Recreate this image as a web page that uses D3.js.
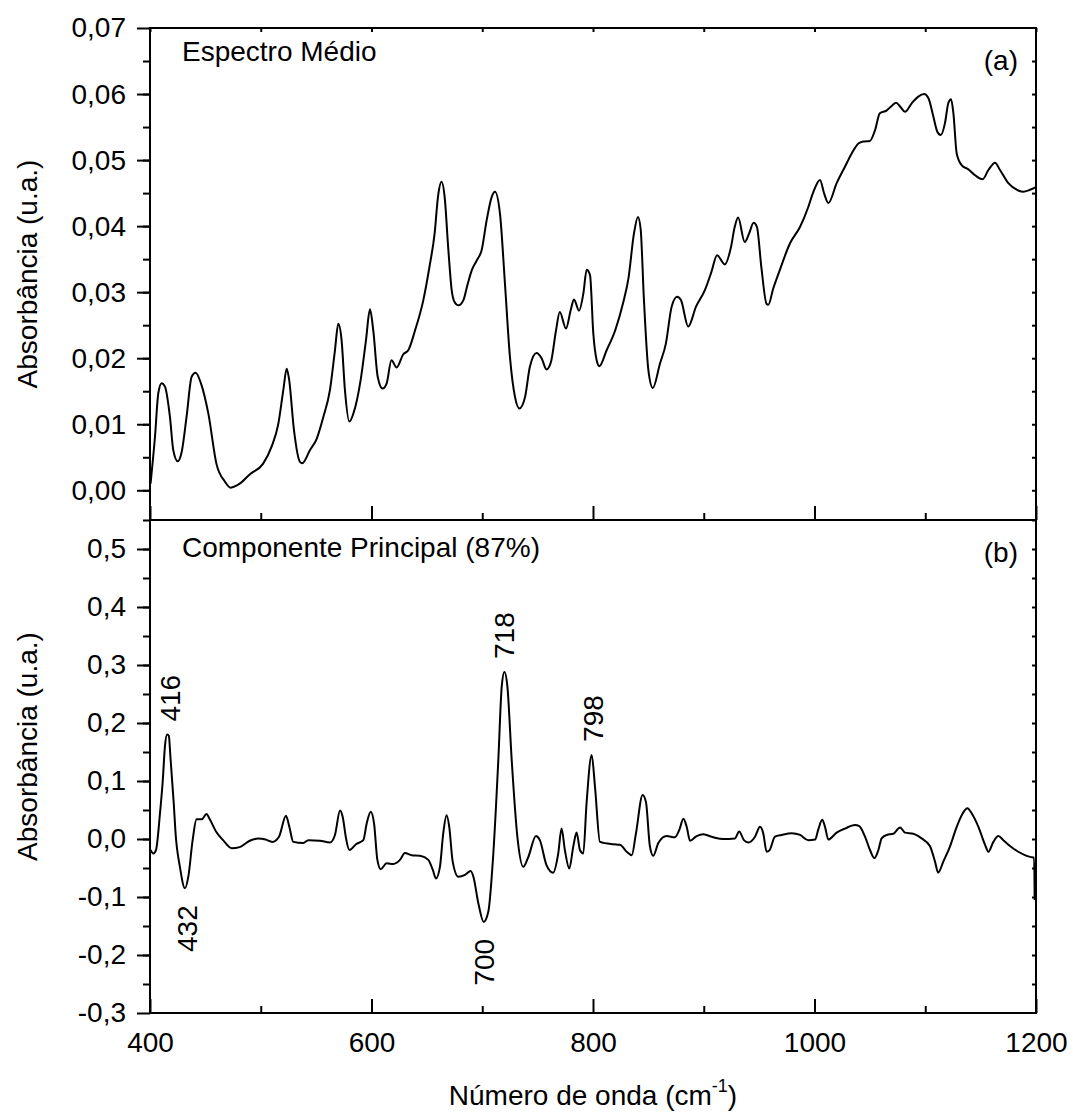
<!DOCTYPE html>
<html>
<head>
<meta charset="utf-8">
<script src="https://cdn.jsdelivr.net/npm/d3@7"></script>
<style>
  body { margin: 0; background: #fff; }
  text { font-family: "Liberation Sans", Arial, sans-serif; fill: #000; }
</style>
</head>
<body>
<div id="chart"></div>
<script>
// mean spectrum (a)
const meanWn = [400.5, 404.5, 407.5, 410.5, 413.5, 418, 421, 425, 428.6, 433, 437.6, 441.2, 446, 452.7, 460, 467.7, 472.8, 481, 490, 502,
  509.8, 515.9, 520.4, 523.4, 525.5, 530, 535.4, 537.5, 544.5, 550.5, 556.5, 562.5, 567, 570, 573, 576, 580, 583.6, 590.4, 595,
  598.6, 601.6, 605.6, 610, 613.7, 618, 622.7, 628.7, 633.2, 639.3, 646.8, 652.5, 657, 660, 663.3, 666, 669.4, 672.4, 675, 678.4,
  683, 686.5, 690.5, 695, 699.5, 704, 708.5, 711.5, 716, 720.5, 725, 729.6, 733.5, 738.6, 743, 749, 753.6, 758, 762, 766.6,
  770, 775.6, 779.9, 782.8, 787.4, 791.3, 794.3, 797.3, 800.3, 803.3, 805.7, 812.3, 820, 827.4, 832, 837, 840.6, 843, 846, 850,
  854, 860.5, 865.8, 871, 876, 879.4, 886, 893, 901, 907, 912, 919, 924.3, 928, 931, 937, 941, 945, 948, 952,
  956.8, 958.3, 962.8, 967.5, 977.9, 987, 994.4, 999, 1005, 1008.6, 1012.5, 1020, 1027.5, 1033.6, 1039.6, 1044, 1050, 1054.6, 1059, 1065,
  1069.7, 1073.6, 1077.8, 1081.7, 1087.8, 1093.7, 1098.9, 1102.8, 1107.3, 1110.9, 1114, 1117.8, 1120.8, 1123.3, 1125.4, 1128.4, 1133, 1138.9, 1145, 1151.8,
  1157, 1163, 1167.5, 1175, 1184, 1188.5, 1194.6, 1200];
const meanAbs = [0.0010, 0.0081, 0.0147, 0.0162, 0.0157, 0.0111, 0.0061, 0.0044, 0.0058, 0.0111, 0.0172, 0.0178, 0.0162, 0.0116, 0.0040, 0.0013, 0.0004, 0.0010, 0.0024, 0.0040,
  0.0066, 0.0101, 0.0152, 0.0184, 0.0169, 0.0091, 0.0043, 0.0041, 0.0061, 0.0078, 0.0111, 0.0152, 0.0212, 0.0252, 0.0227, 0.0152, 0.0104, 0.0116, 0.0169, 0.0227,
  0.0274, 0.0242, 0.0172, 0.0154, 0.0162, 0.0197, 0.0186, 0.0206, 0.0212, 0.0242, 0.0288, 0.0340, 0.0389, 0.0444, 0.0467, 0.0445, 0.0364, 0.0303, 0.0285, 0.0280,
  0.0288, 0.0310, 0.0333, 0.0348, 0.0364, 0.0409, 0.0444, 0.0452, 0.0419, 0.0313, 0.0202, 0.0141, 0.0124, 0.0141, 0.0187, 0.0208, 0.0200, 0.0183, 0.0194, 0.0242,
  0.0270, 0.0245, 0.0273, 0.0289, 0.0272, 0.0298, 0.0334, 0.0326, 0.0237, 0.0197, 0.0188, 0.0212, 0.0242, 0.0285, 0.0321, 0.0389, 0.0414, 0.0396, 0.0288, 0.0182,
  0.0155, 0.0192, 0.0222, 0.0278, 0.0293, 0.0288, 0.0248, 0.0278, 0.0303, 0.0331, 0.0356, 0.0342, 0.0366, 0.0399, 0.0413, 0.0376, 0.0389, 0.0405, 0.0399, 0.0338,
  0.0282, 0.0281, 0.0306, 0.0328, 0.0374, 0.0399, 0.0429, 0.0452, 0.0470, 0.0450, 0.0435, 0.0465, 0.0490, 0.0510, 0.0525, 0.0528, 0.0529, 0.0545, 0.0571, 0.0575,
  0.0582, 0.0587, 0.0580, 0.0573, 0.0586, 0.0596, 0.0600, 0.0594, 0.0566, 0.0543, 0.0538, 0.0556, 0.0586, 0.0592, 0.0571, 0.0510, 0.0492, 0.0486, 0.0477, 0.0471,
  0.0485, 0.0496, 0.0485, 0.0465, 0.0454, 0.0452, 0.0455, 0.0459];

// principal component (b)
const pcWn = [400.5, 403, 405.4, 409, 411.5, 413.5, 415.5, 417, 418.5, 420, 421.5, 423, 427, 431.6, 434.6, 438.5, 442, 446.7, 451, 454,
  459.6, 466, 473.8, 481, 490, 497.8, 504.4, 510.4, 516.5, 522.8, 525.8, 529.4, 538.4, 543, 553.5, 562.5, 567, 571.6, 574, 577,
  580, 586, 592.6, 595.7, 599.3, 602.3, 605.3, 608.3, 613.7, 619.7, 625.7, 630.2, 636.3, 643.8, 651.3, 655.3, 658.2, 661.8, 664.8, 667.8,
  670.2, 673.3, 678.4, 684.4, 689.6, 692, 696.5, 701.3, 705.5, 710, 714.5, 717.6, 720, 722.7, 726.6, 731.7, 737, 741.6, 748.5, 752,
  758, 764, 768.6, 771.6, 774.6, 778.6, 782.2, 785.2, 788.2, 791.2, 794.2, 798.8, 801.8, 806.3, 818.3, 824.4, 830.4, 835, 838.8, 844.8,
  847.8, 851.4, 854.4, 859, 866.5, 874, 878, 881.6, 884.6, 887.6, 893.6, 899.6, 908.6, 917.6, 928.2, 932, 936.3, 940.2, 946.3, 950.8,
  953.7, 956.8, 959.2, 964.3, 970.4, 979.4, 987, 994.4, 1000.5, 1003.5, 1007, 1009.5, 1012.5, 1020, 1027.5, 1036.6, 1040.4, 1045.6, 1050.1, 1054,
  1057.7, 1060.6, 1065.2, 1071.2, 1077.2, 1081.7, 1089.2, 1096.7, 1104.2, 1108.8, 1111.7, 1116.3, 1122.3, 1128.4, 1133.8, 1138, 1142, 1148, 1154, 1157,
  1161.5, 1166, 1170.5, 1176.5, 1184, 1191.6, 1197.6, 1198.3, 1198.8];
const pcLoad = [-0.019, -0.025, -0.019, 0.044, 0.100, 0.160, 0.180, 0.178, 0.140, 0.100, 0.060, 0.012, -0.048, -0.085, -0.065, -0.002, 0.034, 0.034, 0.043, 0.034,
  0.013, -0.002, -0.016, -0.014, -0.003, 0.001, -0.001, -0.005, 0.004, 0.040, 0.021, -0.005, -0.007, -0.002, -0.003, -0.006, 0.007, 0.049, 0.038, 0.001,
  -0.019, -0.009, -0.002, 0.027, 0.047, 0.027, -0.036, -0.052, -0.042, -0.043, -0.036, -0.024, -0.028, -0.029, -0.036, -0.053, -0.068, -0.048, 0.010, 0.041,
  0.021, -0.039, -0.065, -0.062, -0.055, -0.065, -0.111, -0.143, -0.125, -0.025, 0.136, 0.263, 0.288, 0.263, 0.136, 0.004, -0.048, -0.031, 0.005, -0.002,
  -0.045, -0.058, -0.025, 0.018, -0.019, -0.051, -0.013, 0.011, -0.019, -0.025, 0.062, 0.145, 0.090, -0.005, -0.009, -0.010, -0.022, -0.028, 0.010, 0.076,
  0.064, -0.013, -0.029, -0.007, 0.005, 0.003, 0.016, 0.035, 0.021, -0.003, 0.005, 0.008, 0.003, 0.000, 0.001, 0.013, -0.002, -0.006, 0.004, 0.021,
  0.010, -0.022, -0.020, 0.004, 0.007, 0.010, 0.007, -0.002, -0.001, 0.017, 0.033, 0.021, -0.001, 0.011, 0.018, 0.024, 0.022, 0.004, -0.019, -0.033,
  -0.019, 0.001, 0.007, 0.009, 0.020, 0.011, 0.009, 0.001, -0.012, -0.039, -0.058, -0.039, -0.013, 0.021, 0.044, 0.053, 0.044, 0.021, -0.010, -0.022,
  -0.005, 0.005, -0.002, -0.012, -0.022, -0.029, -0.032, -0.032, -0.105];

// peak labels in panel (b)
const peakWn = [416, 432, 700, 718, 798];
const peakVal = [0.18, -0.085, -0.143, 0.288, 0.145];
const peakSide = ["up", "down", "down", "up", "up"];

const xTicks = [400, 600, 800, 1000, 1200];
const xMinor = [500, 700, 900, 1100];
const meanTicks = [0, 0.01, 0.02, 0.03, 0.04, 0.05, 0.06, 0.07];
const pcTicks = [-0.3, -0.2, -0.1, 0, 0.1, 0.2, 0.3, 0.4, 0.5];

const width = 1073, height = 1115;
const left = 150, right = 1036;
const topA = 28, botA = 520, topB = 520, botB = 1013;
const fs = 28;

const svg = d3.select("#chart").append("svg")
  .attr("width", width)
  .attr("height", height);

const x = d3.scaleLinear().domain([400, 1200]).range([left, right]);
const yA = d3.scaleLinear().domain([-0.0045, 0.07]).range([botA, topA]);
const yB = d3.scaleLinear().domain([-0.3, 0.55]).range([botB, topB]);

// comma decimals and a plain hyphen for negatives
const comma = (dec) => (d) => d3.format("." + dec + "f")(d).replace(".", ",").replace("\u2212", "-");

function frame(g) {
  g.selectAll(".domain").remove();
  g.selectAll("line").attr("stroke", "#000").attr("stroke-width", 2);
  g.selectAll("text").attr("font-size", fs).attr("fill", "#000");
}

function panel(y, top, bot, ticks, minorStep, fmt) {
  const g = svg.append("g");
  const minor = d3.range(y.domain()[0], y.domain()[1] + 1e-9, minorStep)
    .map(v => Math.round(v / minorStep) * minorStep)
    .filter(v => v >= y.domain()[0] && v <= y.domain()[1]);

  // left: outward major + minor
  g.append("g").attr("transform", `translate(${left},0)`)
    .call(d3.axisLeft(y).tickValues(minor).tickSize(7).tickFormat(""))
    .call(frame);
  g.append("g").attr("transform", `translate(${left},0)`)
    .call(d3.axisLeft(y).tickValues(ticks).tickSize(13).tickPadding(11).tickFormat(fmt))
    .call(frame);

  // right: small inward ticks
  g.append("g").attr("transform", `translate(${right},0)`)
    .call(d3.axisRight(y).tickValues(minor).tickSize(-4).tickFormat(""))
    .call(frame);

  // bottom: inward ticks
  g.append("g").attr("transform", `translate(0,${bot})`)
    .call(d3.axisBottom(x).tickValues(xMinor).tickSize(-7).tickFormat(""))
    .call(frame);
  g.append("g").attr("transform", `translate(0,${bot})`)
    .call(d3.axisBottom(x).tickValues(xTicks).tickSize(-14).tickFormat(""))
    .call(frame);

  g.append("rect")
    .attr("x", left).attr("y", top)
    .attr("width", right - left).attr("height", bot - top)
    .attr("fill", "none").attr("stroke", "#000").attr("stroke-width", 2);
  return g;
}

panel(yA, topA, botA, meanTicks, 0.005, comma(2));
panel(yB, topB, botB, pcTicks, 0.05, comma(1));

// small ticks on the very top edge
svg.append("g").attr("transform", `translate(0,${topA})`)
  .call(d3.axisTop(x).tickValues(xTicks.concat(xMinor)).tickSize(-4).tickFormat(""))
  .call(frame);

// x tick labels under panel (b)
svg.append("g").attr("transform", `translate(0,${botB})`)
  .call(d3.axisBottom(x).tickValues(xTicks).tickSize(0).tickPadding(19).tickFormat(d3.format("d")))
  .call(frame);

// curves
const lineA = d3.line().curve(d3.curveMonotoneX).x((d, i) => x(meanWn[i])).y(d => yA(d));
const lineB = d3.line().curve(d3.curveMonotoneX).x((d, i) => x(pcWn[i])).y(d => yB(d));

svg.append("path").datum(meanAbs)
  .attr("d", lineA)
  .attr("fill", "none").attr("stroke", "#000").attr("stroke-width", 2)
  .attr("stroke-linejoin", "round");

svg.append("path").datum(pcLoad)
  .attr("d", lineB)
  .attr("fill", "none").attr("stroke", "#000").attr("stroke-width", 2)
  .attr("stroke-linejoin", "round");

// panel texts
svg.append("text").attr("x", 182).attr("y", 61).attr("font-size", fs).text("Espectro Médio");
svg.append("text").attr("x", 1018).attr("y", 70).attr("font-size", fs).attr("text-anchor", "end").text("(a)");
svg.append("text").attr("x", 182).attr("y", 557).attr("font-size", fs).text("Componente Principal (87%)");
svg.append("text").attr("x", 1018).attr("y", 562).attr("font-size", fs).attr("text-anchor", "end").text("(b)");

// peak annotations, rotated
peakWn.forEach(function (w, i) {
  const up = peakSide[i] === "up";
  const px = x(w) + 12;
  const py = up ? yB(peakVal[i]) - 13 : yB(peakVal[i]) + 17;
  svg.append("text")
    .attr("transform", `translate(${px},${py}) rotate(-90)`)
    .attr("text-anchor", up ? "start" : "end")
    .attr("font-size", fs)
    .text(w);
});

// axis titles
[[topA, botA], [topB, botB - 40]].forEach(function (p) {
  svg.append("text")
    .attr("transform", `translate(37,${(p[0] + p[1]) / 2}) rotate(-90)`)
    .attr("text-anchor", "middle")
    .attr("font-size", fs)
    .text("Absorbância (u.a.)");
});

const xt = svg.append("text")
  .attr("x", (left + right) / 2).attr("y", 1105)
  .attr("text-anchor", "middle")
  .attr("font-size", fs);
xt.append("tspan").text("Número de onda (cm");
xt.append("tspan").attr("font-size", 18).attr("dy", -13).text("-1");
xt.append("tspan").attr("dy", 13).text(")");
</script>
</body>
</html>
